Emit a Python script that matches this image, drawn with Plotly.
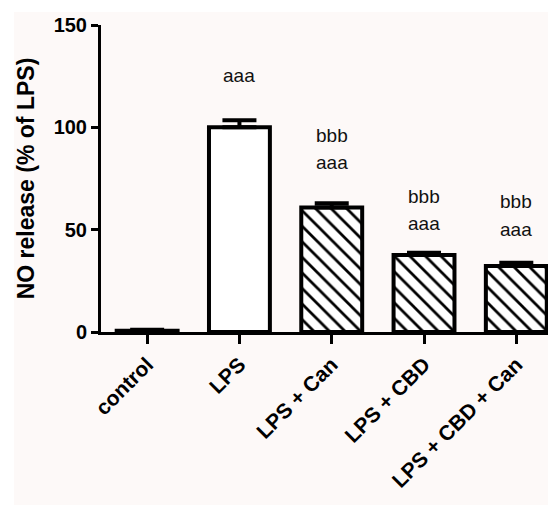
import plotly.graph_objects as go

categories = ["control", "LPS", "LPS + Can", "LPS + CBD", "LPS + CBD + Can"]
values = [0.6, 100.0, 60.8, 37.6, 32.3]
errors = [0.5, 3.5, 2.1, 1.1, 1.5]
fills = ["white", "white", "hatch", "hatch", "hatch"]

sig_text = ["aaa", "bbb", "aaa", "bbb", "aaa", "bbb", "aaa"]
sig_cat = [1, 2, 2, 3, 3, 4, 4]
sig_y = [125.5, 95.9, 82.6, 66.1, 52.8, 64.0, 50.3]

FONT = "Liberation Sans, Arial, sans-serif"
BG = "#fdf9f8"

# page has an 8px body margin; figure is sized to fill the rest of the window
W, H = 548, 497
L, T, PH = 93, 17, 307

fig = go.Figure()
fig.add_trace(go.Bar(
    x=list(range(len(categories))),
    y=values,
    width=0.66,
    marker=dict(
        color="white",
        line=dict(color="black", width=4),
        pattern=dict(
            shape=["\\" if f == "hatch" else "" for f in fills],
            fgcolor="black",
            fgopacity=1,
            bgcolor="white",
            fillmode="replace",
            size=11,
            solidity=0.25,
        ),
    ),
    error_y=dict(
        type="data", array=errors, arrayminus=[0] * len(errors), symmetric=False,
        color="black", thickness=4, width=17,
    ),
    showlegend=False,
))

for t, c, yy in zip(sig_text, sig_cat, sig_y):
    fig.add_annotation(x=c, y=yy, text=t, showarrow=False, xref="x", yref="y",
                       font=dict(family=FONT, size=19, color="#111111"))

fig.add_shape(type="rect", xref="paper", yref="paper",
              x0=(6 - L) / (W - L), x1=1.1, y0=-0.7, y1=(T + PH - 4) / PH,
              fillcolor=BG, line=dict(width=0), layer="below")

fig.update_layout(
    width=W, height=H,
    margin=dict(l=L, r=0, t=T, b=H - T - PH, autoexpand=False),
    paper_bgcolor="white",
    plot_bgcolor=BG,
    font=dict(family=FONT, color="black"),
)
fig.update_xaxes(
    range=[-0.5, 4.43],
    tickvals=list(range(len(categories))),
    ticktext=[f"<b>{c}</b>" for c in categories],
    tickangle=-45,
    tickfont=dict(family=FONT, size=21, color="black"),
    ticks="outside", ticklen=9, tickwidth=3, tickcolor="black",
    showline=True, linewidth=3, linecolor="black",
    showgrid=False, zeroline=False,
)
fig.update_yaxes(
    range=[0, 150],
    tickvals=[0, 50, 100, 150],
    ticktext=["<b>0</b>", "<b>50</b>", "<b>100</b>", "<b>150</b>"],
    tickfont=dict(family=FONT, size=20, color="black"),
    ticks="outside", ticklen=7, tickwidth=3, tickcolor="black",
    showline=True, linewidth=3, linecolor="black",
    showgrid=False, zeroline=False,
    title=dict(text="<b>NO release (% of LPS)</b>", font=dict(family=FONT, size=23, color="black"), standoff=13),
)

fig.write_html("out.html")
